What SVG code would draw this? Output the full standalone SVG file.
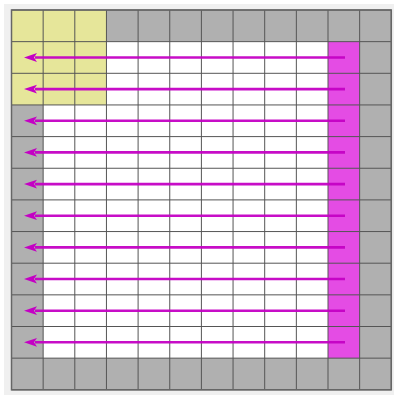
<svg xmlns="http://www.w3.org/2000/svg" width="394" height="395" viewBox="0 0 394 395">
<defs>
<style>
.y{fill:#e6e69a}
.g{fill:#b0b0b0}
.w{fill:#ffffff}
.m{fill:#e44ce4}
.ln{stroke:#555;stroke-width:1;fill:none}
.ar{stroke:#c400c4;stroke-width:2.6;fill:none;stroke-opacity:0.95}
</style>
<marker id="ah" markerUnits="userSpaceOnUse" markerWidth="14" markerHeight="10" refX="2" refY="5" orient="auto" viewBox="0 0 14 10">
<path d="M13,5 L0,0.6 L3,5 L0,9.4 Z" fill="#c400c4"/>
</marker>
</defs>
<rect x="0" y="0" width="394" height="395" fill="#ffffff"/>
<rect x="4" y="4" width="390" height="391" fill="#f0f0f0"/>
<g id="grid">
<rect class="g" x="11.5" y="10" width="379.8" height="379.8"/>
<rect class="w" x="43.15" y="41.65" width="284.85" height="316.5"/>
<rect class="m" x="328" y="41.65" width="31.65" height="316.5"/>
<rect class="y" x="11.5" y="10" width="94.95" height="94.95"/>
<g class="ln">
<path d="M11.5,10V389.8M43.15,10V389.8M74.8,10V389.8M106.45,10V389.8M138.1,10V389.8M169.75,10V389.8M201.4,10V389.8M233.05,10V389.8M264.7,10V389.8M296.35,10V389.8M328,10V389.8M359.65,10V389.8M391.3,10V389.8"/>
<path d="M11.5,10H391.3M11.5,41.65H391.3M11.5,73.3H391.3M11.5,104.95H391.3M11.5,136.6H391.3M11.5,168.25H391.3M11.5,199.9H391.3M11.5,231.55H391.3M11.5,263.2H391.3M11.5,294.85H391.3M11.5,326.5H391.3M11.5,358.15H391.3M11.5,389.8H391.3"/>
</g>
<rect x="11.5" y="10" width="379.8" height="379.8" fill="none" stroke="#666" stroke-width="1.5"/>
</g>
<g id="connectors">
<path class="ar" marker-end="url(#ah)" d="M345,57.5H35"/>
<path class="ar" marker-end="url(#ah)" d="M345,89.1H35"/>
<path class="ar" marker-end="url(#ah)" d="M345,120.8H35"/>
<path class="ar" marker-end="url(#ah)" d="M345,152.4H35"/>
<path class="ar" marker-end="url(#ah)" d="M345,184.1H35"/>
<path class="ar" marker-end="url(#ah)" d="M345,215.7H35"/>
<path class="ar" marker-end="url(#ah)" d="M345,247.4H35"/>
<path class="ar" marker-end="url(#ah)" d="M345,279H35"/>
<path class="ar" marker-end="url(#ah)" d="M345,310.7H35"/>
<path class="ar" marker-end="url(#ah)" d="M345,342.3H35"/>
</g>
</svg>
